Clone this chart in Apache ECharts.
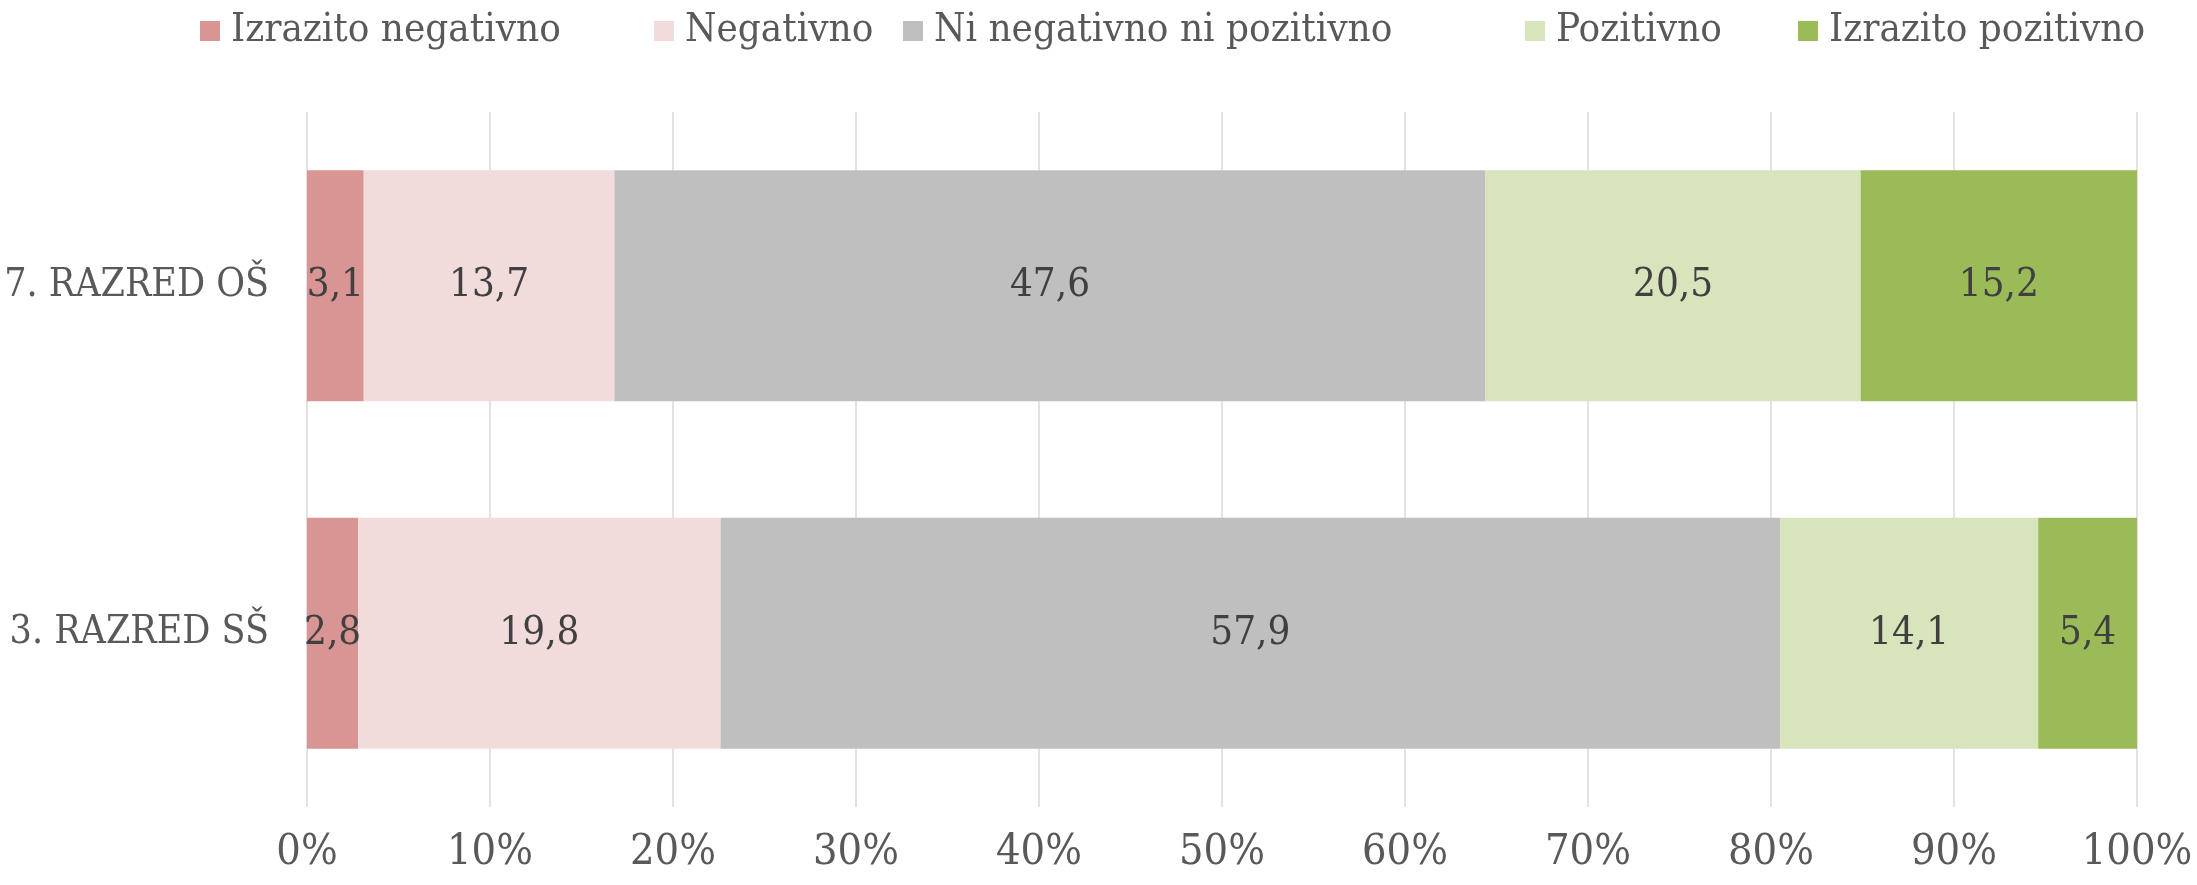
<!DOCTYPE html>
<html>
<head>
    <meta charset="utf-8" />
    <title></title>
</head>
<body style="margin:0">
<div id="main" style="width:2197px;height:885px"></div>
<script src="https://cdn.jsdelivr.net/npm/echarts@6/dist/echarts.min.js"></script>
<script type="text/javascript">
    var categories = ['3. RAZRED SŠ', '7. RAZRED OŠ'];
    var seriesNames = ['Izrazito negativno', 'Negativno', 'Ni negativno ni pozitivno', 'Pozitivno', 'Izrazito pozitivno'];
    var izrazitoNegativno = [2.8, 3.1];
    var negativno = [19.8, 13.7];
    var niNegNiPoz = [57.9, 47.6];
    var pozitivno = [14.1, 20.5];
    var izrazitoPozitivno = [5.4, 15.2];
    var xTicks = [0, 10, 20, 30, 40, 50, 60, 70, 80, 90, 100];

    var colors = ['#D99594', '#F2DBDB', '#BFBFBF', '#D8E4BC', '#9BBB59'];
    var values = [izrazitoNegativno, negativno, niNegNiPoz, pozitivno, izrazitoPozitivno];
    var font = 'DejaVu Serif Condensed';

    // one legend per item, so the uneven spacing of the original can be kept
    var legendLeft = [195, 649, 898, 1520, 1793];
    var legends = seriesNames.map(function (name, i) {
        return {
            data: [name],
            top: 6,
            left: legendLeft[i],
            itemWidth: 20,
            itemHeight: 20,
            icon: 'rect',
            textStyle: { fontFamily: font, fontSize: 40, color: '#595959', padding: [0, 0, 0, 6] }
        };
    });

    var myChart = echarts.init(document.getElementById('main'));
    var option = {
        backgroundColor: 'white',
        animation: false,
        legend: legends,
        grid: { left: 307, right: 60, top: 112, bottom: 78 },
        xAxis: {
            type: 'value',
            min: 0,
            max: 100,
            interval: 10,
            axisLine: { show: false },
            axisTick: { show: false },
            splitLine: { lineStyle: { color: '#D9D9D9', width: 1.5 } },
            axisLabel: {
                margin: 24,
                fontFamily: font,
                fontSize: 43,
                color: '#595959',
                formatter: function (v) { return xTicks.indexOf(v) >= 0 ? v + '%' : ''; }
            }
        },
        yAxis: {
            type: 'category',
            data: categories,
            axisLine: { show: false },
            axisTick: { show: false },
            axisLabel: { margin: 38, fontFamily: font, fontSize: 39, color: '#595959' }
        },
        series: seriesNames.map(function (name, i) {
            return {
                name: name,
                type: 'bar',
                stack: 'total',
                barCategoryGap: '33.5%',
                itemStyle: { color: colors[i] },
                label: {
                    show: true,
                    position: 'inside',
                    fontFamily: font,
                    fontSize: 40,
                    color: '#404040',
                    formatter: function (p) { return p.value.toFixed(1).replace('.', ','); }
                },
                data: values[i]
            };
        })
    };
    myChart.setOption(option);
</script>
</body>
</html>
